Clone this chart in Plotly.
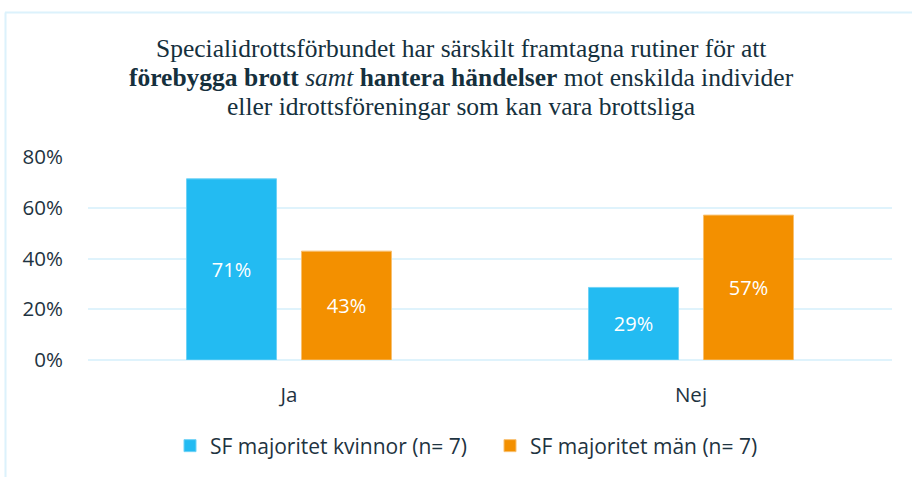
import plotly.graph_objects as go

categories = ["Ja", "Nej"]
kvinnor = [0.714, 0.286]
man = [0.429, 0.571]
series_names = ["SF majoritet kvinnor (n= 7)", "SF majoritet män (n= 7)"]
y_ticks = [0, 0.2, 0.4, 0.6, 0.8]
y_tick_labels = ["0%", "20%", "40%", "60%", "80%"]
title_lines = [
    "Specialidrottsförbundet har särskilt framtagna rutiner för att",
    "<b>förebygga brott</b> <i>samt</i> <b>hantera händelser</b> mot enskilda individer",
    "eller idrottsföreningar som kan vara brottsliga",
]

sans = "'Open Sans', Lato, sans-serif"
serif = "'Liberation Serif', 'DejaVu Serif', serif"
txt = "#1e3341"
title_col = "#15303d"
grid = "#dff3fc"

fig = go.Figure()
fig.add_trace(go.Bar(x=categories, y=kvinnor, name=series_names[0],
                     marker=dict(color="#23bbf2", line=dict(color="#6fd2f6", width=1)),
                     texttemplate="%{y:.0%}", textposition="inside", insidetextanchor="middle",
                     textfont=dict(color="white", size=20, family=sans)))
fig.add_trace(go.Bar(x=categories, y=man, name=series_names[1],
                     marker=dict(color="#f39000", line=dict(color="#f8c070", width=1)),
                     texttemplate="%{y:.0%}", textposition="inside", insidetextanchor="middle",
                     textfont=dict(color="white", size=20, family=sans)))

annotations = []
for i, (line, yc) in enumerate(zip(title_lines, [48, 77, 106])):
    annotations.append(dict(text=line, xref="paper", yref="paper",
                            x=(461 - 88) / 804, y=(360 - yc) / 203,
                            xanchor="center", yanchor="middle", showarrow=False,
                            font=dict(family=serif, size=25.5, color=title_col)))

fig.update_layout(
    width=912, height=477,
    paper_bgcolor="white", plot_bgcolor="white",
    margin=dict(l=88, r=20, t=157, b=117),
    barmode="group", bargap=0.428, bargroupgap=0.217,
    font=dict(family=sans, color=txt, size=20),
    showlegend=True,
    legend=dict(orientation="h", x=(186 - 16) / 912, xref="container", xanchor="left",
                y=1 - 446 / 477, yref="container", yanchor="middle",
                font=dict(family=sans, size=21, color=txt), entrywidth=275),
    xaxis=dict(showgrid=False, showline=False, zeroline=False,
               tickfont=dict(family=sans, size=20.5, color=txt), ticklabelstandoff=20),
    yaxis=dict(range=[0, 0.8], tickvals=y_ticks, ticktext=y_tick_labels,
               showgrid=True, gridcolor=grid, gridwidth=2,
               zeroline=True, zerolinecolor=grid, zerolinewidth=2,
               showline=False, tickfont=dict(family=sans, size=20.5, color=txt),
               ticklabelstandoff=24),
    annotations=annotations,
    shapes=[
        dict(type="line", xref="paper", yref="paper",
             x0=(5 - 88) / 804, x1=(915 - 88) / 804,
             y0=(360 - 12.5) / 203, y1=(360 - 12.5) / 203,
             line=dict(color="#dcf2fc", width=2)),
        dict(type="line", xref="paper", yref="paper",
             x0=(5.5 - 88) / 804, x1=(5.5 - 88) / 804,
             y0=(360 - 12.5) / 203, y1=(360 - 480) / 203,
             line=dict(color="#dcf2fc", width=2)),
    ],
)

fig.write_html("out.html", config={"displayModeBar": False},
               post_script="document.body.style.margin='0';")
